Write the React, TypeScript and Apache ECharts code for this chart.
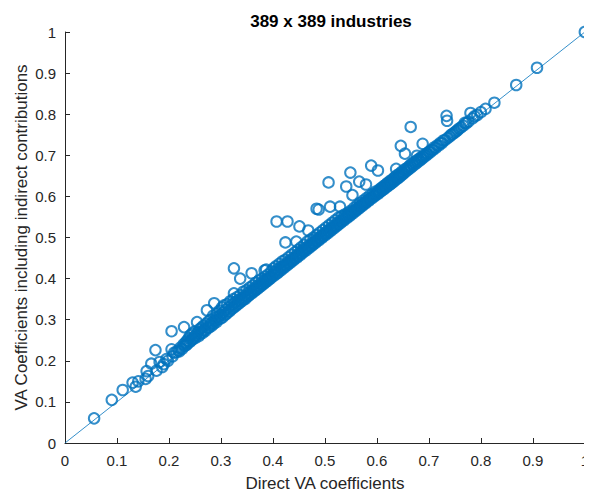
import React, { useEffect, useRef } from "react";
import * as echarts from "echarts";

const titleText = "389 x 389 industries";
const xAxisName = "Direct VA coefficients";
const yAxisName = "VA Coefficients including indirect contributions";
const tickValues = [0, 0.1, 0.2, 0.3, 0.4, 0.5, 0.6, 0.7, 0.8, 0.9, 1];
const diagonal: [number, number][] = [[0, 0], [1, 1]];

// [direct VA coefficient, VA coefficient incl. indirect contributions]
const pointsLow: [number, number][] = [
  [0.056,0.060],[0.090,0.105],[0.111,0.129],[0.130,0.147],[0.136,0.137],[0.141,0.150],[0.155,0.156],[0.157,0.175],
  [0.160,0.163],[0.166,0.193],[0.174,0.226],[0.176,0.176],[0.182,0.197],[0.187,0.185],[0.190,0.192],[0.195,0.204],[0.198,0.200],
];
const points20: [number, number][] = [
  [0.205,0.272],[0.205,0.228],[0.207,0.211],[0.210,0.220],[0.214,0.221],[0.218,0.225],[0.220,0.223],[0.222,0.232],[0.225,0.229],
  [0.228,0.240],[0.229,0.282],[0.230,0.236],[0.232,0.245],[0.233,0.238],[0.235,0.249],[0.236,0.242],[0.238,0.255],[0.240,0.246],
  [0.241,0.262],[0.243,0.250],[0.245,0.266],[0.246,0.253],[0.248,0.258],[0.249,0.271],[0.250,0.255],
  [0.252,0.262],[0.254,0.294],[0.255,0.268],[0.257,0.260],[0.258,0.276],[0.260,0.265],[0.262,0.280],[0.263,0.270],[0.265,0.268],
  [0.266,0.285],[0.268,0.275],[0.270,0.273],[0.271,0.290],[0.273,0.323],[0.274,0.280],[0.276,0.296],[0.277,0.281],[0.279,0.288],
  [0.280,0.300],[0.282,0.285],[0.283,0.293],[0.285,0.310],[0.286,0.290],[0.287,0.340],[0.288,0.298],[0.290,0.305],[0.291,0.294],
  [0.293,0.315],[0.294,0.300],[0.296,0.308],[0.297,0.322],[0.299,0.303],
];
const points30: [number, number][] = [
  [0.300,0.312],[0.302,0.330],[0.303,0.306],[0.305,0.318],[0.306,0.335],[0.308,0.312],[0.309,0.324],[0.311,0.315],[0.312,0.338],
  [0.314,0.320],[0.315,0.330],[0.317,0.321],[0.318,0.345],[0.320,0.326],[0.321,0.336],[0.323,0.328],[0.324,0.350],[0.325,0.425],
  [0.325,0.364],[0.326,0.332],[0.328,0.343],[0.329,0.334],[0.331,0.355],[0.332,0.338],[0.334,0.348],[0.335,0.340],[0.337,0.400],
  [0.337,0.360],[0.338,0.344],[0.340,0.352],[0.341,0.346],[0.343,0.368],[0.344,0.350],[0.346,0.358],[0.347,0.351],[0.349,0.372],
  [0.350,0.356],[0.352,0.365],[0.353,0.358],[0.355,0.378],[0.356,0.362],[0.358,0.370],[0.359,0.413],[0.359,0.364],[0.361,0.383],
  [0.362,0.368],[0.364,0.376],[0.365,0.370],[0.367,0.390],[0.368,0.374],[0.370,0.382],[0.371,0.376],[0.373,0.395],[0.374,0.380],
  [0.376,0.388],[0.377,0.382],[0.379,0.400],[0.380,0.386],[0.382,0.394],[0.383,0.388],[0.384,0.420],[0.385,0.405],[0.386,0.392],
  [0.387,0.422],[0.388,0.398],[0.389,0.394],[0.391,0.410],[0.392,0.398],[0.394,0.405],[0.395,0.400],[0.397,0.418],[0.398,0.404],
];
const points40: [number, number][] = [
  [0.400,0.410],[0.401,0.425],[0.403,0.408],[0.404,0.416],[0.406,0.430],[0.407,0.539],[0.407,0.412],[0.409,0.422],[0.410,0.415],
  [0.412,0.436],[0.413,0.420],[0.415,0.428],[0.416,0.421],[0.418,0.442],[0.419,0.426],[0.421,0.432],[0.422,0.427],[0.424,0.488],
  [0.424,0.446],[0.425,0.432],[0.427,0.438],[0.428,0.539],[0.428,0.433],[0.430,0.452],[0.431,0.438],[0.433,0.444],[0.434,0.439],
  [0.436,0.458],[0.437,0.444],[0.439,0.450],[0.440,0.445],[0.442,0.464],[0.443,0.450],[0.445,0.490],[0.445,0.456],[0.446,0.451],
  [0.448,0.470],[0.449,0.456],
  [0.451,0.527],[0.451,0.462],[0.452,0.457],[0.454,0.476],[0.455,0.462],[0.457,0.468],[0.458,0.463],[0.460,0.482],[0.461,0.468],
  [0.463,0.474],[0.464,0.469],[0.466,0.490],[0.467,0.474],[0.468,0.517],[0.469,0.480],[0.470,0.475],[0.472,0.495],[0.473,0.480],
  [0.475,0.486],[0.476,0.481],[0.478,0.500],[0.479,0.486],[0.481,0.492],[0.482,0.487],[0.484,0.570],[0.484,0.506],[0.485,0.492],
  [0.487,0.498],[0.488,0.568],[0.488,0.493],[0.490,0.512],[0.491,0.498],[0.493,0.504],[0.494,0.499],[0.496,0.518],[0.497,0.504],
  [0.499,0.510],
];
const points50: [number, number][] = [
  [0.500,0.505],[0.502,0.524],[0.503,0.510],[0.505,0.516],[0.506,0.511],[0.507,0.634],[0.508,0.530],[0.509,0.516],[0.510,0.575],
  [0.511,0.522],[0.512,0.517],[0.514,0.536],[0.515,0.522],[0.517,0.528],[0.518,0.523],[0.520,0.542],[0.521,0.528],[0.523,0.534],
  [0.524,0.529],[0.526,0.548],[0.527,0.534],[0.529,0.575],[0.529,0.540],[0.530,0.535],[0.532,0.552],[0.533,0.540],[0.535,0.546],
  [0.536,0.541],[0.538,0.556],[0.539,0.546],[0.541,0.624],[0.541,0.552],[0.542,0.547],[0.544,0.560],[0.545,0.552],[0.547,0.557],
  [0.548,0.553],[0.549,0.658],
  [0.550,0.565],[0.551,0.558],[0.553,0.603],[0.553,0.563],[0.554,0.559],[0.556,0.572],[0.557,0.564],[0.559,0.568],[0.560,0.565],
  [0.562,0.578],[0.563,0.570],[0.565,0.574],[0.566,0.636],[0.566,0.571],[0.568,0.584],[0.569,0.576],[0.571,0.580],[0.572,0.577],
  [0.574,0.590],[0.575,0.582],[0.577,0.586],[0.578,0.583],[0.579,0.629],[0.580,0.596],[0.581,0.588],[0.583,0.592],[0.584,0.589],
  [0.586,0.602],[0.587,0.594],[0.589,0.675],[0.589,0.597],[0.590,0.595],[0.592,0.606],[0.593,0.600],[0.595,0.603],[0.596,0.601],
  [0.598,0.612],[0.599,0.605],
];
const points60: [number, number][] = [
  [0.601,0.610],[0.602,0.663],[0.602,0.606],[0.604,0.616],[0.605,0.611],[0.607,0.612],[0.608,0.620],[0.610,0.615],[0.611,0.622],
  [0.613,0.617],[0.614,0.626],[0.616,0.621],[0.617,0.628],[0.619,0.623],[0.620,0.632],[0.622,0.627],[0.623,0.634],[0.625,0.629],
  [0.626,0.638],[0.628,0.632],[0.630,0.641],[0.631,0.635],[0.633,0.645],[0.634,0.638],[0.636,0.648],[0.637,0.667],[0.638,0.642],
  [0.640,0.652],[0.641,0.645],[0.643,0.655],[0.644,0.648],[0.646,0.723],[0.646,0.652],[0.648,0.660],[0.649,0.653],
  [0.651,0.656],[0.653,0.665],[0.654,0.704],[0.655,0.660],[0.657,0.668],[0.659,0.664],[0.661,0.672],[0.662,0.667],[0.664,0.676],
  [0.665,0.769],[0.666,0.671],[0.668,0.680],[0.670,0.675],[0.672,0.683],[0.674,0.679],[0.676,0.687],[0.677,0.699],[0.678,0.683],
  [0.680,0.690],[0.682,0.687],[0.684,0.694],[0.686,0.691],[0.688,0.728],[0.688,0.697],[0.690,0.695],[0.692,0.701],[0.694,0.699],
  [0.696,0.704],[0.698,0.703],
];
const pointsHigh: [number, number][] = [
  [0.700,0.708],[0.703,0.708],[0.705,0.713],[0.708,0.713],[0.710,0.719],[0.713,0.718],[0.716,0.724],[0.719,0.724],[0.722,0.730],
  [0.725,0.730],[0.728,0.736],[0.731,0.737],[0.734,0.796],[0.735,0.784],[0.736,0.742],[0.740,0.746],[0.743,0.750],[0.746,0.752],
  [0.749,0.755],[0.752,0.758],[0.755,0.761],[0.758,0.765],[0.762,0.768],[0.766,0.772],[0.769,0.779],[0.772,0.778],[0.776,0.782],
  [0.780,0.803],[0.784,0.790],[0.788,0.795],[0.793,0.798],[0.800,0.805],[0.809,0.813],[0.826,0.828],[0.868,0.871],[0.908,0.913],
  [1.0,1.0],
];

const allPoints = [
  ...pointsLow, ...points20, ...points30, ...points40, ...points50, ...points60, ...pointsHigh,
];

const BLUE = "#0072BD";
const AXIS = "#262626";
const FONT = "Liberation Sans, Arial, Helvetica, sans-serif";

const fmt = (v: number) => {
  const r = Math.round(v * 10) / 10;
  return String(r);
};

export default function App() {
  const ref = useRef<HTMLDivElement>(null);
  useEffect(() => {
    if (!ref.current) return;
    const chart = echarts.init(ref.current, undefined, { renderer: "svg" });
    const axisCommon = {
      type: "value" as const,
      min: tickValues[0],
      max: tickValues[tickValues.length - 1],
      interval: 0.1,
      nameLocation: "middle" as const,
      nameMoveOverlap: false,
      nameTextStyle: { color: AXIS, fontSize: 17, fontFamily: FONT },
      axisLine: { show: true, onZero: false, lineStyle: { color: AXIS, width: 1 } },
      axisTick: { show: true, inside: true, length: 5, lineStyle: { color: AXIS } },
      axisLabel: { color: AXIS, fontSize: 15, fontFamily: FONT, formatter: fmt },
      splitLine: { show: false },
    };
    chart.setOption({
      animation: false,
      backgroundColor: "#ffffff",
      title: {
        text: titleText,
        left: 326,
        textAlign: "center",
        top: 8,
        textStyle: { color: "#000", fontSize: 17, fontWeight: "bold", fontFamily: FONT },
      },
      grid: { left: 65, right: 4, top: 32, bottom: 53, containLabel: false },
      xAxis: {
        ...axisCommon,
        name: xAxisName,
        nameGap: 32,
        axisLabel: { ...axisCommon.axisLabel, margin: 10 },
      },
      yAxis: {
        ...axisCommon,
        name: yAxisName,
        nameGap: 35,
        axisLabel: { ...axisCommon.axisLabel, margin: 9 },
      },
      series: [
        {
          type: "line",
          data: diagonal,
          symbol: "none",
          lineStyle: { color: BLUE, width: 0.8 },
          z: 1,
        },
        {
          type: "scatter",
          data: allPoints,
          symbol: "circle",
          symbolSize: 10.5,
          itemStyle: { color: "rgba(0,0,0,0)", borderColor: BLUE, borderWidth: 2 },
          z: 2,
        },
      ],
    });
    return () => chart.dispose();
  }, []);
  return <div ref={ref} style={{ width: 592, height: 497, margin: -8 }} />;
}
